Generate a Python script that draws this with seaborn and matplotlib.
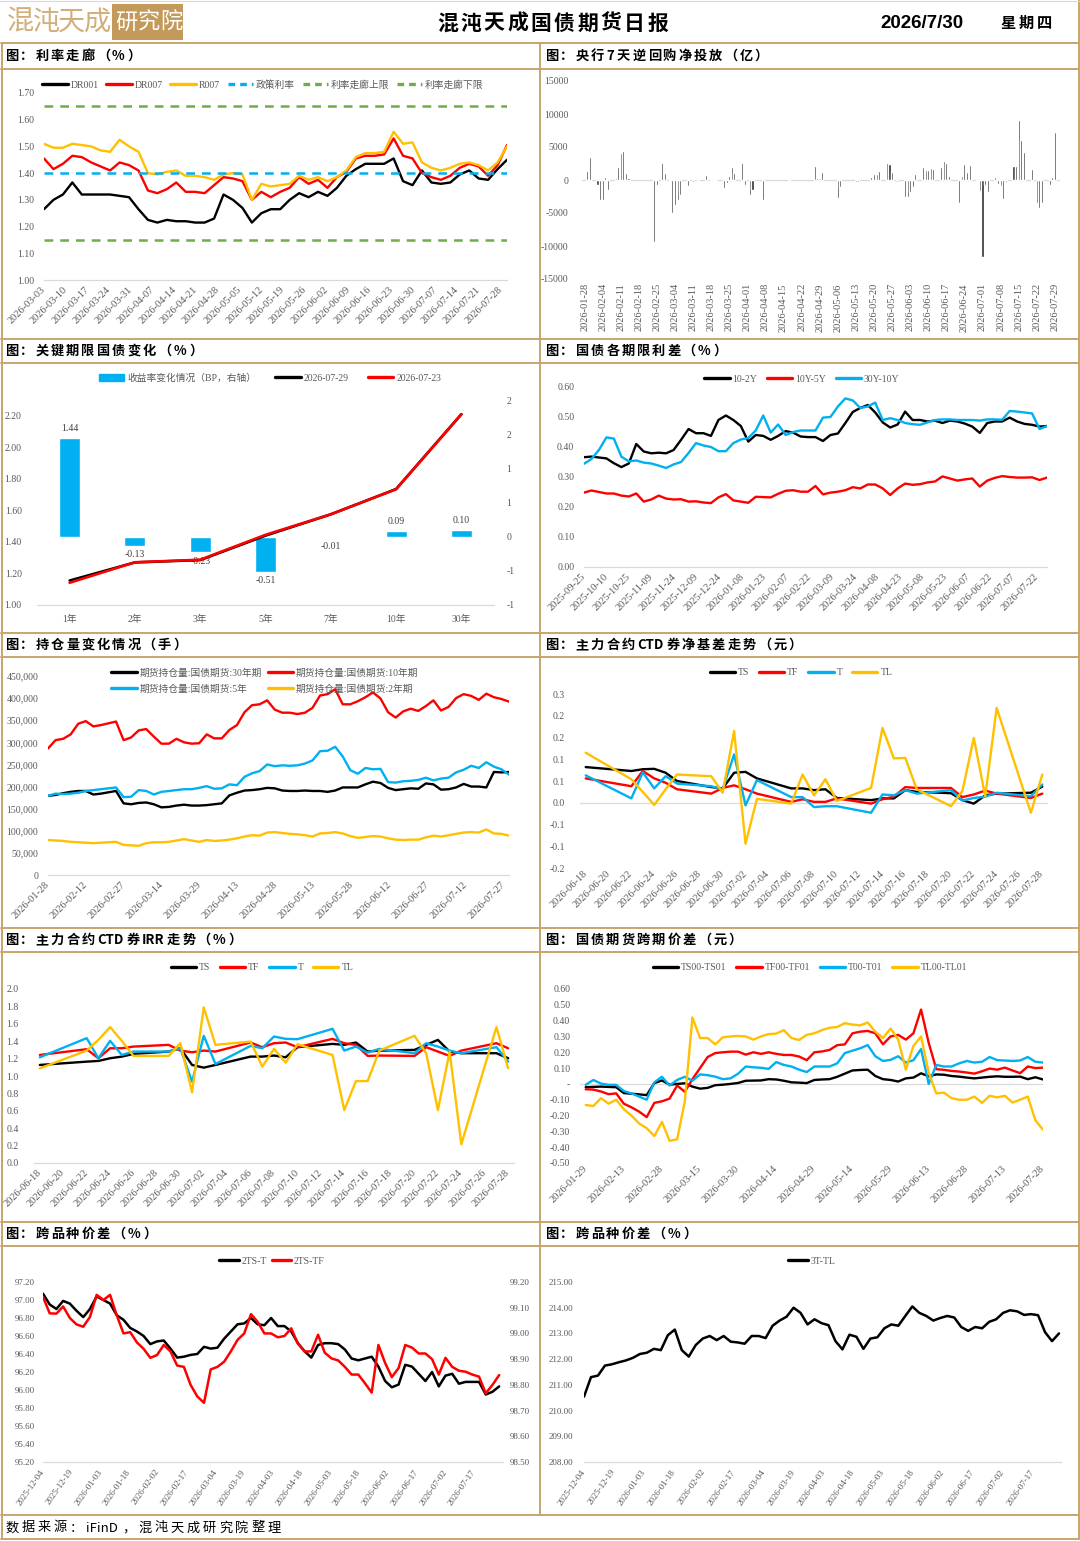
import numpy as np
import pandas as pd
import matplotlib
matplotlib.use("Agg")
import matplotlib.pyplot as plt
import matplotlib.dates as mdates
import matplotlib.ticker as mticker
from matplotlib.lines import Line2D
from matplotlib.patches import Patch, Rectangle
import seaborn as sns

# ---------------- data ----------------
# 1. 利率走廊 (%)
rate_start, rate_end = "2026-03-03", "2026-07-30"
dr001 = [1.265, 1.30, 1.32, 1.365, 1.32, 1.32, 1.32, 1.32, 1.315, 1.31,
         1.265, 1.225, 1.215, 1.225, 1.22, 1.22, 1.215, 1.215, 1.23, 1.32,
         1.30, 1.27, 1.215, 1.25, 1.265, 1.265, 1.30, 1.325, 1.31, 1.33,
         1.315, 1.345, 1.39, 1.415, 1.435, 1.435, 1.435, 1.455, 1.37, 1.355,
         1.41, 1.365, 1.36, 1.365, 1.395, 1.41, 1.38, 1.375, 1.415, 1.45]
dr007 = [1.455, 1.415, 1.435, 1.465, 1.46, 1.44, 1.425, 1.41, 1.44, 1.43,
         1.41, 1.335, 1.325, 1.34, 1.365, 1.33, 1.33, 1.325, 1.355, 1.385,
         1.38, 1.37, 1.30, 1.33, 1.31, 1.33, 1.345, 1.385, 1.36, 1.375,
         1.345, 1.385, 1.405, 1.455, 1.465, 1.465, 1.47, 1.53, 1.465, 1.455,
         1.40, 1.385, 1.375, 1.39, 1.42, 1.435, 1.425, 1.39, 1.43, 1.505]
r007 = [1.51, 1.495, 1.495, 1.51, 1.505, 1.50, 1.485, 1.48, 1.525, 1.50,
        1.48, 1.40, 1.395, 1.405, 1.41, 1.39, 1.39, 1.385, 1.375, 1.395,
        1.40, 1.395, 1.30, 1.36, 1.35, 1.355, 1.36, 1.39, 1.375, 1.385,
        1.37, 1.385, 1.41, 1.46, 1.475, 1.475, 1.48, 1.555, 1.51, 1.515,
        1.44, 1.42, 1.41, 1.42, 1.435, 1.44, 1.43, 1.41, 1.44, 1.50]
policy_rate = 1.40
corridor_upper = 1.65
corridor_lower = 1.15

# 2. 央行7天逆回购净投放 (亿)
omo_dates = ["2026-01-29", "2026-01-30", "2026-02-02", "2026-02-03", "2026-02-04", "2026-02-05", "2026-02-06", "2026-02-09", "2026-02-10", "2026-02-11",
             "2026-02-12", "2026-02-13", "2026-02-14", "2026-02-24", "2026-02-25", "2026-02-27", "2026-02-28", "2026-03-02", "2026-03-03", "2026-03-04",
             "2026-03-05", "2026-03-06", "2026-03-09", "2026-03-11", "2026-03-13", "2026-03-16", "2026-03-18", "2026-03-19", "2026-03-20", "2026-03-23",
             "2026-03-24", "2026-03-25", "2026-03-26", "2026-03-27", "2026-03-30", "2026-03-31", "2026-04-02", "2026-04-03", "2026-04-07", "2026-04-17",
             "2026-04-27", "2026-04-28", "2026-04-29", "2026-04-30", "2026-05-06", "2026-05-07", "2026-05-13", "2026-05-14", "2026-05-19", "2026-05-20",
             "2026-05-21", "2026-05-22", "2026-05-25", "2026-05-26", "2026-05-27", "2026-05-29", "2026-06-01", "2026-06-02", "2026-06-03", "2026-06-04",
             "2026-06-05", "2026-06-08", "2026-06-09", "2026-06-10", "2026-06-11", "2026-06-12", "2026-06-15", "2026-06-16", "2026-06-17", "2026-06-18",
             "2026-06-22", "2026-06-23", "2026-06-24", "2026-06-25", "2026-06-26", "2026-06-29", "2026-06-30", "2026-07-01", "2026-07-02", "2026-07-03",
             "2026-07-06", "2026-07-07", "2026-07-08", "2026-07-09", "2026-07-10", "2026-07-13", "2026-07-14", "2026-07-15", "2026-07-16", "2026-07-17",
             "2026-07-20", "2026-07-22", "2026-07-23", "2026-07-24", "2026-07-27", "2026-07-28", "2026-07-29"]
omo_values = [1420, 3550, -760, -3040, -3040, 500, -1520, 350, 2030, 4060,
              4460, 1120, 300, -9330, -760, 2640, 1120, 150, -5020, -3750,
              -3040, -2280, -910, -250, -200, 810, -200, -150, -150, -1270,
              -450, 560, 2030, 1120, 2540, -760, -2230, -1520, -3040, -200,
              2180, 250, 250, 1170, -2790, -1010, -350, -350, 500, 910,
              910, 1420, 2540, 2430, 1170, -350, -2540, -2540, -1770, -1010,
              910, 2030, 1520, 1520, 1830, 1670, 2030, 2940, 2540, 560,
              -3500, 660, 2430, 1170, 2330, -200, -1620, -11660, -760, -1770,
              410, -610, -860, -2890, -350, 2180, 2180, 9130, 6080, 4310,
              1670, -3550, -4260, -3550, -760, 410, 7250]

# 3. 关键期限国债变化
tenors = ["1年", "2年", "3年", "5年", "7年", "10年", "30年"]
yield_0729 = [1.155, 1.270, 1.285, 1.440, 1.575, 1.735, 2.210]
yield_0723 = [1.141, 1.271, 1.287, 1.445, 1.575, 1.734, 2.209]
bp_change = [1.44, -0.13, -0.23, -0.51, -0.01, 0.09, 0.10]
bp_ticks = [-1.0, -0.5, 0.0, 0.5, 1.0, 1.5, 2.0]
bp_tick_labels = ["-1", "-1", "0", "1", "1", "2", "2"]

# 4. 国债各期限利差 (%)
spread_start, spread_end = "2025-09-25", "2026-07-29"
spread_10_2 = [0.366, 0.368, 0.365, 0.362, 0.346, 0.333, 0.345, 0.41, 0.385, 0.379,
               0.381, 0.379, 0.39, 0.424, 0.46, 0.446, 0.446, 0.437, 0.49, 0.505,
               0.49, 0.47, 0.418, 0.44, 0.437, 0.424, 0.437, 0.453, 0.448, 0.435,
               0.433, 0.433, 0.42, 0.44, 0.445, 0.48, 0.517, 0.53, 0.54, 0.515,
               0.482, 0.465, 0.475, 0.518, 0.49, 0.49, 0.485, 0.488, 0.48, 0.488,
               0.485, 0.478, 0.468, 0.447, 0.48, 0.485, 0.485, 0.498, 0.485, 0.477,
               0.474, 0.468, 0.47]
spread_10_5 = [0.248, 0.255, 0.25, 0.245, 0.245, 0.238, 0.235, 0.245, 0.218, 0.225,
               0.238, 0.228, 0.225, 0.226, 0.218, 0.219, 0.215, 0.213, 0.232, 0.243,
               0.222, 0.218, 0.214, 0.234, 0.233, 0.232, 0.244, 0.254, 0.256, 0.251,
               0.251, 0.27, 0.242, 0.248, 0.251, 0.256, 0.266, 0.262, 0.275, 0.275,
               0.262, 0.24, 0.262, 0.278, 0.274, 0.276, 0.282, 0.285, 0.302, 0.295,
               0.288, 0.292, 0.295, 0.268, 0.288, 0.297, 0.303, 0.30, 0.298, 0.298,
               0.299, 0.29, 0.298]
spread_30_10 = [0.344, 0.36, 0.39, 0.432, 0.428, 0.368, 0.352, 0.355, 0.348, 0.345,
                0.338, 0.33, 0.342, 0.35, 0.38, 0.413, 0.405, 0.40, 0.386, 0.386,
                0.413, 0.425, 0.43, 0.455, 0.505, 0.448, 0.475, 0.44, 0.45, 0.455,
                0.455, 0.455, 0.498, 0.50, 0.535, 0.562, 0.555, 0.53, 0.535, 0.548,
                0.49, 0.496, 0.49, 0.48, 0.476, 0.474, 0.482, 0.49, 0.492, 0.492,
                0.49, 0.49, 0.49, 0.488, 0.492, 0.492, 0.491, 0.52, 0.518, 0.515,
                0.512, 0.46, 0.47]

# 5. 持仓量变化情况 (手)
oi_start, oi_end = "2026-01-28", "2026-07-29"
oi_30y = [179000, 181000, 185000, 188000, 190000, 190000, 182000, 184000, 187000, 190000,
          162000, 160000, 163000, 164000, 160000, 153000, 154000, 157000, 159000, 157000,
          157000, 158000, 160000, 162000, 180000, 186000, 191000, 192000, 194000, 197000,
          196000, 191000, 190000, 190000, 191000, 190000, 190000, 188000, 191000, 198000,
          198000, 198000, 205000, 211000, 208000, 197000, 192000, 194000, 196000, 195000,
          207000, 205000, 193000, 194000, 198000, 206000, 200000, 200000, 198000, 233000,
          232000, 233000]
oi_10y = [286000, 305000, 308000, 318000, 342000, 348000, 336000, 339000, 343000, 347000,
          305000, 311000, 327000, 330000, 313000, 297000, 297000, 308000, 300000, 297000,
          298000, 318000, 309000, 309000, 328000, 339000, 368000, 384000, 386000, 395000,
          374000, 367000, 367000, 364000, 367000, 378000, 406000, 409000, 420000, 386000,
          386000, 393000, 402000, 413000, 399000, 368000, 356000, 370000, 376000, 371000,
          382000, 395000, 372000, 380000, 400000, 409000, 405000, 396000, 410000, 402000,
          398000, 392000]
oi_5y = [179000, 184000, 183000, 184000, 186000, 190000, 192000, 194000, 196000, 198000,
         176000, 177000, 192000, 190000, 182000, 188000, 190000, 192000, 194000, 194000,
         197000, 201000, 195000, 196000, 205000, 203000, 222000, 230000, 235000, 250000,
         246000, 248000, 247000, 248000, 252000, 259000, 280000, 281000, 290000, 268000,
         237000, 229000, 242000, 239000, 240000, 210000, 209000, 212000, 213000, 215000,
         220000, 214000, 218000, 220000, 232000, 238000, 247000, 242000, 255000, 245000,
         239000, 227000]
oi_2y = [79000, 78000, 77000, 75000, 74000, 73000, 72000, 73000, 74000, 75000,
         68000, 67000, 66000, 72000, 74000, 74000, 75000, 78000, 81000, 78000,
         75000, 79000, 77000, 78000, 80000, 83000, 87000, 90000, 89000, 96000,
         97000, 95000, 93000, 92000, 90000, 87000, 94000, 95000, 97000, 94000,
         88000, 84000, 86000, 88000, 87000, 83000, 80000, 79000, 80000, 80000,
         85000, 89000, 87000, 90000, 93000, 96000, 97000, 96000, 103000, 94000,
         93000, 89000]

# 6/7. 主力合约CTD券净基差 (元) / IRR (%)
ctd_dates = ["2026-06-18", "2026-06-22", "2026-06-23", "2026-06-24", "2026-06-25", "2026-06-26", "2026-06-29",
             "2026-06-30", "2026-07-01", "2026-07-02", "2026-07-03", "2026-07-06", "2026-07-07", "2026-07-08",
             "2026-07-09", "2026-07-10", "2026-07-13", "2026-07-14", "2026-07-15", "2026-07-16", "2026-07-17",
             "2026-07-20", "2026-07-21", "2026-07-22", "2026-07-23", "2026-07-24", "2026-07-27", "2026-07-28"]
basis_ts = [0.082, 0.073, 0.077, 0.078, 0.069, 0.050, 0.036, 0.033, 0.069, 0.071, 0.056, 0.033, 0.033, 0.029,
            0.031, 0.011, 0.006, 0.010, 0.010, 0.029, 0.025, 0.022, 0.006, -0.002, 0.017, 0.021, 0.023, 0.037]
basis_tf = [0.056, 0.038, 0.073, 0.056, 0.046, 0.031, 0.021, 0.034, 0.040, 0.031, 0.021, 0.002, 0.008, 0.002,
            0.002, 0.010, -0.002, 0.008, 0.014, 0.036, 0.034, 0.034, 0.013, 0.019, 0.028, 0.021, 0.011, 0.021]
basis_t = [0.063, 0.010, 0.070, 0.033, 0.061, 0.044, 0.038, 0.031, 0.111, -0.006, 0.052, 0.013, 0.013, -0.010,
           -0.008, -0.008, -0.023, 0.019, 0.017, 0.029, 0.021, 0.029, 0.005, 0.011, 0.014, 0.023, 0.015, 0.042]
basis_tl = [0.115, 0.054, 0.025, -0.005, 0.031, 0.065, 0.061, 0.023, 0.165, -0.094, 0.009, -0.002, 0.065, 0.017,
            0.054, 0.004, 0.034, 0.172, 0.102, 0.103, 0.031, -0.008, 0.027, 0.149, 0.015, 0.218, -0.023, 0.065]
basis_ticks = [-0.15, -0.10, -0.05, 0.0, 0.05, 0.10, 0.15, 0.20, 0.25]
basis_tick_labels = ["-0.2", "-0.1", "-0.1", "0.0", "0.1", "0.1", "0.2", "0.2", "0.3"]

irr_ts = [1.127, 1.165, 1.173, 1.204, 1.223, 1.254, 1.281, 1.319, 1.127, 1.096, 1.127, 1.223, 1.223, 1.235,
          1.215, 1.331, 1.369, 1.358, 1.385, 1.281, 1.292, 1.300, 1.358, 1.415, 1.281, 1.262, 1.262, 1.204]
irr_tf = [1.242, 1.308, 1.204, 1.319, 1.319, 1.338, 1.358, 1.292, 1.273, 1.292, 1.281, 1.385, 1.331, 1.377,
          1.385, 1.331, 1.427, 1.377, 1.358, 1.231, 1.235, 1.231, 1.331, 1.281, 1.231, 1.292, 1.377, 1.319]
irr_t = [1.215, 1.435, 1.204, 1.404, 1.242, 1.281, 1.281, 1.319, 0.935, 1.462, 1.138, 1.346, 1.319, 1.454,
         1.427, 1.423, 1.542, 1.292, 1.338, 1.269, 1.312, 1.262, 1.377, 1.338, 1.292, 1.262, 1.331, 1.165]
irr_tl = [1.088, 1.292, 1.415, 1.562, 1.404, 1.231, 1.231, 1.377, 0.812, 1.788, 1.358, 1.396, 1.108, 1.312,
          1.154, 1.365, 1.242, 0.608, 0.942, 0.942, 1.292, 1.462, 1.262, 0.608, 1.281, 0.215, 1.562, 1.088]

# 8. 国债期货跨期价差 (元)
cal_start, cal_end = "2026-01-29", "2026-07-28"
cal_ts = [-0.021, -0.019, -0.017, -0.019, -0.021, -0.058, -0.062, -0.066, -0.071, 0.005,
          0.022, -0.005, 0.0, 0.004, -0.017, -0.03, -0.025, -0.008, -0.005, 0.0,
          0.006, 0.02, 0.021, 0.022, 0.03, 0.028, 0.02, 0.01, 0.008, 0.005,
          0.025, 0.028, 0.03, 0.045, 0.065, 0.085, 0.088, 0.09, 0.05, 0.03,
          0.025, 0.015, 0.035, 0.04, 0.067, 0.048, 0.06, 0.058, 0.05, 0.046,
          0.04, 0.035, 0.04, 0.045, 0.048, 0.045, 0.045, 0.046, 0.03, 0.042,
          0.028]
cal_tf = [-0.034, -0.036, -0.048, -0.065, -0.06, -0.125, -0.148, -0.175, -0.21, -0.12,
          -0.11, -0.093, -0.01, -0.05, 0.03, 0.10, 0.17, 0.195, 0.20, 0.204,
          0.204, 0.185, 0.20, 0.19, 0.20, 0.19, 0.183, 0.183, 0.173, 0.15,
          0.20, 0.205, 0.215, 0.245, 0.25, 0.32, 0.33, 0.335, 0.32, 0.25,
          0.30, 0.31, 0.28, 0.32, 0.47, 0.26, 0.093, 0.089, 0.082, 0.078,
          0.072, 0.065, 0.08, 0.097, 0.09, 0.103, 0.085, 0.068, 0.11, 0.10,
          0.103]
cal_t = [-0.006, 0.025, 0.002, -0.006, -0.006, -0.045, -0.06, -0.08, -0.1, 0.01,
         0.045, -0.01, 0.025, 0.045, 0.02, 0.06, 0.055, 0.046, 0.03, 0.035,
         0.065, 0.11, 0.105, 0.102, 0.095, 0.138, 0.12, 0.11, 0.09, 0.075,
         0.11, 0.11, 0.11, 0.13, 0.195, 0.21, 0.225, 0.245, 0.175, 0.145,
         0.152, 0.175, 0.135, 0.15, 0.22, 0.0, 0.12, 0.11, 0.11, 0.13,
         0.145, 0.135, 0.14, 0.17, 0.15, 0.148, 0.145, 0.148, 0.17, 0.14,
         0.135]
cal_tl = [-0.133, -0.14, -0.09, -0.125, -0.1, -0.16, -0.2, -0.25, -0.28, -0.33,
          -0.24, -0.36, -0.35, -0.11, 0.42, 0.29, 0.29, 0.25, 0.295, 0.30,
          0.303, 0.30, 0.28, 0.30, 0.315, 0.318, 0.34, 0.29, 0.278, 0.31,
          0.32, 0.34, 0.355, 0.36, 0.384, 0.375, 0.37, 0.388, 0.33, 0.29,
          0.35, 0.28, 0.09, 0.24, 0.30, 0.07, -0.06, -0.055, -0.09, -0.1,
          -0.1, -0.08, -0.12, -0.075, -0.085, -0.075, -0.118, -0.1, -0.08, -0.23,
          -0.29]

# 9/10. 跨品种价差
cross_start, cross_end = "2025-12-04", "2026-07-30"
spread_2ts_t = [97.07, 96.95, 96.90, 96.99, 96.96, 96.88, 96.81, 96.90, 97.04, 97.00,
                96.96, 96.83, 96.78, 96.69, 96.65, 96.60, 96.51, 96.54, 96.55, 96.46,
                96.36, 96.37, 96.39, 96.40, 96.48, 96.46, 96.47, 96.57, 96.65, 96.73,
                96.74, 96.80, 96.73, 96.72, 96.80, 96.71, 96.71, 96.65, 96.52, 96.43,
                96.36, 96.50, 96.52, 96.52, 96.51, 96.45, 96.35, 96.33, 96.35, 96.37,
                96.26, 96.10, 96.03, 96.06, 96.28, 96.26, 96.18, 96.10, 96.20, 96.04,
                96.16, 96.18, 96.07, 96.09, 96.09, 96.09, 95.95, 95.98, 96.04]
spread_2ts_tf = [99.142, 99.078, 99.077, 99.105, 99.06, 99.035, 99.026, 99.064, 99.15, 99.13,
                 99.15, 99.07, 99.00, 99.005, 98.965, 98.94, 98.905, 98.916, 98.955, 98.93,
                 98.875, 98.87, 98.80, 98.755, 98.73, 98.86, 98.87, 98.89, 98.93, 98.975,
                 99.00, 99.075, 99.045, 99.00, 99.00, 98.985, 98.99, 99.02, 98.96, 98.93,
                 98.93, 98.995, 98.925, 98.903, 98.895, 98.87, 98.84, 98.84, 98.806, 98.77,
                 98.955, 98.885, 98.83, 98.865, 98.955, 98.945, 98.922, 98.922, 98.90, 98.84,
                 98.905, 98.87, 98.855, 98.851, 98.84, 98.832, 98.767, 98.80, 98.838]
spread_3t_tl = [210.54, 211.30, 211.36, 211.75, 211.80, 211.88, 211.95, 212.05, 212.20, 212.25,
                212.40, 212.35, 212.93, 213.15, 212.35, 212.10, 212.55, 212.80, 212.90, 212.74,
                212.90, 212.68, 212.65, 212.60, 212.90, 212.90, 212.82, 213.30, 213.50, 213.65,
                214.00, 213.80, 213.35, 213.55, 213.40, 213.32, 212.70, 212.38, 212.95, 212.87,
                212.40, 212.80, 212.85, 213.20, 213.35, 213.30, 213.68, 214.05, 213.80, 213.68,
                213.50, 213.60, 213.68, 213.62, 213.25, 213.10, 213.25, 213.20, 213.45, 213.55,
                213.80, 213.90, 213.86, 213.72, 213.75, 213.71, 213.05, 212.70, 213.00]

# ---------------- style ----------------
BLACK, RED, BLUE, YELLOW, GREEN = "#000000", "#FF0000", "#00B0F0", "#FFC000", "#70AD47"
TXT, AXC, GOLD = "#595959", "#D9D9D9", "#C8A56E"
LW = 1.7
CJK = ["Noto Sans CJK SC", "DejaVu Sans"]

sns.set_theme(style="white")
plt.rcParams["font.family"] = ["Liberation Serif", "Noto Sans CJK SC"]
plt.rcParams["axes.unicode_minus"] = False

W, H = 1080, 1541
fig = plt.figure(figsize=(W / 100, H / 100), dpi=100)
bg = fig.add_axes([0, 0, 1, 1])
bg.axis("off")
renderer = fig.canvas.get_renderer()


def add_ax(l, t, r, b):
    ax = fig.add_axes([l / W, 1 - b / H, (r - l) / W, (b - t) / H])
    ax.set_facecolor("none")
    return ax


def setup(ax, xtick_len=3):
    for s in ("top", "right", "left"):
        ax.spines[s].set_visible(False)
    ax.spines["bottom"].set_color(AXC)
    ax.spines["bottom"].set_linewidth(0.9)
    ax.tick_params(axis="y", length=0, labelsize=7, labelcolor=TXT, pad=7)
    ax.tick_params(axis="x", length=xtick_len, width=0.8, color=AXC, labelsize=7.5,
                   labelcolor=TXT, pad=3)
    ax.set_xlabel("")
    ax.set_ylabel("")
    ax.grid(False)


def date_axis(ax, ticks, lo, hi, rot=45, size=7.5):
    ax.set_xlim(pd.Timestamp(lo), pd.Timestamp(hi))
    ax.set_xticks(ticks)
    ax.xaxis.set_major_formatter(mdates.DateFormatter("%Y-%m-%d"))
    plt.setp(ax.get_xticklabels(), rotation=rot, ha="right", va="center",
             rotation_mode="anchor", fontsize=size, color=TXT)


def draw(ax, x, y, color, lw=LW):
    sns.lineplot(x=x, y=np.asarray(y), ax=ax, color=color, lw=lw, legend=False,
                 errorbar=None, sort=False)


def hline(c, ls="-"):
    return Line2D([0], [0], color=c, lw=2.4, ls=ls)


def add_legend(handles, labels, cx, cy, ncol=None, **kw):
    opts = dict(loc="center", bbox_to_anchor=(cx / W, 1 - cy / H), ncol=ncol or len(handles),
                frameon=False, prop={"size": 7}, labelcolor=TXT, handlelength=2.6,
                handletextpad=0.3, columnspacing=1.0, borderaxespad=0, borderpad=0)
    opts.update(kw)
    fig.legend(handles, labels, **opts)


def spaced(x, y, s, step, size, weight="bold", color="black", gap=3):
    # CJK characters one by one with wide tracking, ASCII runs kept together
    runs, cur = [], ""
    for ch in s:
        if ord(ch) < 256:
            cur += ch
        else:
            if cur:
                runs.append(cur)
                cur = ""
            runs.append(ch)
    if cur:
        runs.append(cur)
    for r in runs:
        t = bg.text(x, y, r, fontsize=size, fontweight=weight, color=color, family=CJK,
                    ha="left", va="center")
        if ord(r[0]) > 255:
            x += step
        else:
            x += t.get_window_extent(renderer=renderer).width + gap


# ---------------- frame & header ----------------
bg.set_xlim(0, W)
bg.set_ylim(H, 0)
for yy in [43, 69, 339, 363, 633, 657, 928, 952, 1222, 1246, 1515, 1539]:
    bg.plot([1, 1079], [yy, yy], color=GOLD, lw=1.4)
bg.plot([540, 540], [43, 1515], color=GOLD, lw=1.4)
bg.plot([1.5, 1.5], [43, 1539], color=GOLD, lw=1.4)
bg.plot([1078.5, 1078.5], [0, 1539], color=GOLD, lw=1.4)
bg.plot([0, 1080], [0.5, 0.5], color=AXC, lw=0.8)
bg.set_xlim(0, W)
bg.set_ylim(H, 0)

spaced(7, 22, "混沌天成", 25.5, 19.5, weight="light", color="#D2AE78")
bg.add_patch(Rectangle((112, 4), 71, 36, facecolor="#C49A5A", edgecolor="none"))
spaced(115, 22, "研究院", 22.5, 16, weight="normal", color="white")
spaced(437, 23, "混沌天成国债期货日报", 23.4, 15, weight="heavy")
bg.text(880, 23, "2026/7/30", fontsize=13.5, fontweight="bold", family="Liberation Sans",
        ha="left", va="center", color="black")
spaced(1000, 23, "星期四", 18.5, 11)

titles = [(5, 56, "图：利率走廊（%）"), (545, 56, "图：央行7天逆回购净投放（亿）"),
          (5, 351, "图：关键期限国债变化（%）"), (545, 351, "图：国债各期限利差（%）"),
          (5, 645, "图：持仓量变化情况（手）"), (545, 645, "图：主力合约CTD券净基差走势（元）"),
          (5, 940, "图：主力合约CTD券IRR走势（%）"), (545, 940, "图：国债期货跨期价差（元）"),
          (5, 1234, "图：跨品种价差（%）"), (545, 1234, "图：跨品种价差（%）")]
for tx, ty, ts in titles:
    spaced(tx, ty, ts, 15.3, 9.5, gap=3)
spaced(5, 1528, "数据来源：iFinD，混沌天成研究院整理", 16.2, 9.5, weight="normal", gap=4)

# ---------------- 1. 利率走廊 ----------------
ax1 = add_ax(44, 93, 507, 280)
d1 = pd.date_range(rate_start, rate_end, periods=len(dr001))
for ser, c in [(dr001, BLACK), (dr007, RED), (r007, YELLOW)]:
    draw(ax1, d1, ser, c)
ax1.axhline(policy_rate, color=BLUE, lw=1.8, ls=(0, (3.5, 2.8)))
ax1.axhline(corridor_upper, color=GREEN, lw=1.8, ls=(0, (3.5, 2.8)))
ax1.axhline(corridor_lower, color=GREEN, lw=1.8, ls=(0, (3.5, 2.8)))
setup(ax1)
ax1.set_ylim(1.0, 1.7)
ax1.set_yticks(np.linspace(1.0, 1.7, 8))
ax1.yaxis.set_major_formatter(mticker.FormatStrFormatter("%.2f"))
date_axis(ax1, pd.date_range("2026-03-03", "2026-07-28", freq="7D"), rate_start, rate_end)
add_legend([hline(BLACK), hline(RED), hline(YELLOW), hline(BLUE, (0, (2, 1.5))),
            hline(GREEN, (0, (2, 1.5))), hline(GREEN, (0, (2, 1.5)))],
           ["DR001", "DR007", "R007", "政策利率", "利率走廊上限", "利率走廊下限"], 263, 85,
           columnspacing=0.8)

# ---------------- 2. 央行逆回购 ----------------
ax2 = add_ax(582, 81, 1060, 279)
ax2.bar(pd.to_datetime(omo_dates), omo_values, width=0.8, color="#2E2E2E")
ax2.axhline(0, color=AXC, lw=0.9, zorder=0)
setup(ax2, xtick_len=0)
ax2.spines["bottom"].set_visible(False)
ax2.set_ylim(-15000, 15000)
ax2.set_yticks(np.arange(-15000, 15001, 5000))
ax2.tick_params(axis="y", pad=10)
date_axis(ax2, pd.date_range("2026-01-28", "2026-07-29", freq="7D"), "2026-01-27", "2026-07-31",
          rot=90, size=7.5)

# ---------------- 3. 关键期限国债 ----------------
ax3 = add_ax(37, 400, 494, 605)
ax3r = ax3.twinx()
ax3r.set_facecolor("none")
pos = np.arange(len(tenors))
ax3r.bar(pos, bp_change, width=0.32, color=BLUE)
for i, v in enumerate(bp_change):
    ax3r.text(i, v + (0.07 if v >= 0 else -0.07), f"{v:.2f}", ha="center",
              va="bottom" if v >= 0 else "top", fontsize=7, color="#404040")
draw(ax3, pos, yield_0729, BLACK, lw=1.9)
draw(ax3, pos, yield_0723, RED, lw=1.9)
ax3.set_zorder(ax3r.get_zorder() + 1)
ax3.patch.set_visible(False)
setup(ax3, xtick_len=0)
ax3.set_xlim(-0.5, len(tenors) - 0.5)
ax3.set_xticks(pos, tenors)
ax3.tick_params(axis="x", labelsize=7, pad=7)
ax3.set_ylim(1.0, 2.3)
ax3.set_yticks(np.linspace(1.0, 2.2, 7))
ax3.yaxis.set_major_formatter(mticker.FormatStrFormatter("%.2f"))
ax3.tick_params(axis="y", pad=11)
for s in ax3r.spines.values():
    s.set_visible(False)
ax3r.set_ylim(-1, 2)
ax3r.set_yticks(bp_ticks, bp_tick_labels)
ax3r.tick_params(axis="y", length=0, labelsize=7, labelcolor=TXT, pad=9)
ax3r.grid(False)
ax3r.set_ylabel("")
add_legend([Patch(color=BLUE), hline(BLACK), hline(RED)],
           ["收益率变化情况（BP，右轴）", "2026-07-29", "2026-07-23"], 270, 378,
           columnspacing=2.0)

# ---------------- 4. 国债各期限利差 ----------------
ax4 = add_ax(584, 387, 1047, 567)
d4 = pd.date_range(spread_start, spread_end, periods=len(spread_10_2))
for ser, c in [(spread_10_2, BLACK), (spread_10_5, RED), (spread_30_10, BLUE)]:
    draw(ax4, d4, ser, c)
setup(ax4)
ax4.set_ylim(0, 0.6)
ax4.set_yticks(np.linspace(0, 0.6, 7))
ax4.yaxis.set_major_formatter(mticker.FormatStrFormatter("%.2f"))
date_axis(ax4, pd.date_range("2025-09-25", "2026-07-22", freq="15D"), spread_start, spread_end)
add_legend([hline(BLACK), hline(RED), hline(BLUE)], ["10-2Y", "10Y-5Y", "30Y-10Y"], 802, 379)

# ---------------- 5. 持仓量 ----------------
ax5 = add_ax(48, 676, 509, 875)
d5 = pd.date_range(oi_start, oi_end, periods=len(oi_30y))
for ser, c in [(oi_30y, BLACK), (oi_10y, RED), (oi_5y, BLUE), (oi_2y, YELLOW)]:
    draw(ax5, d5, ser, c)
setup(ax5)
ax5.set_ylim(0, 450000)
ax5.set_yticks(np.arange(0, 450001, 50000))
ax5.yaxis.set_major_formatter(mticker.StrMethodFormatter("{x:,.0f}"))
date_axis(ax5, pd.date_range("2026-01-28", "2026-07-27", freq="15D"), oi_start, oi_end)
add_legend([hline(BLACK), hline(BLUE), hline(RED), hline(YELLOW)],
           ["期货持仓量:国债期货:30年期", "期货持仓量:国债期货:5年",
            "期货持仓量:国债期货:10年期", "期货持仓量:国债期货:2年期"], 265, 681, ncol=2,
           labelspacing=0.7, columnspacing=0.6)

# ---------------- 6. CTD净基差 ----------------
dctd = pd.to_datetime(ctd_dates)
ctd_ticks = pd.date_range("2026-06-18", "2026-07-28", freq="2D")
ax6 = add_ax(580, 694, 1048, 868)
for ser, c in [(basis_ts, BLACK), (basis_tf, RED), (basis_t, BLUE), (basis_tl, YELLOW)]:
    draw(ax6, dctd, ser, c)
ax6.axhline(0, color=AXC, lw=0.9, zorder=0)
setup(ax6, xtick_len=0)
ax6.spines["bottom"].set_visible(False)
ax6.set_ylim(-0.15, 0.25)
ax6.set_yticks(basis_ticks, basis_tick_labels)
ax6.tick_params(axis="y", pad=11)
date_axis(ax6, ctd_ticks, "2026-06-17 12:00", "2026-07-28 12:00")
add_legend([hline(BLACK), hline(RED), hline(BLUE), hline(YELLOW)], ["TS", "TF", "T", "TL"], 801, 673)

# ---------------- 7. CTD IRR ----------------
ax7 = add_ax(34, 989, 514, 1163)
for ser, c in [(irr_ts, BLACK), (irr_tf, RED), (irr_t, BLUE), (irr_tl, YELLOW)]:
    draw(ax7, dctd, ser, c)
setup(ax7)
ax7.set_ylim(0, 2.0)
ax7.set_yticks(np.linspace(0, 2.0, 11))
ax7.yaxis.set_major_formatter(mticker.FormatStrFormatter("%.1f"))
ax7.tick_params(axis="y", pad=11)
date_axis(ax7, ctd_ticks, "2026-06-17 12:00", "2026-07-28 12:00")
add_legend([hline(BLACK), hline(RED), hline(BLUE), hline(YELLOW)], ["TS", "TF", "T", "TL"], 262, 968)

# ---------------- 8. 跨期价差 ----------------
ax8 = add_ax(580, 989, 1043, 1163)
d8 = pd.date_range(cal_start, cal_end, periods=len(cal_ts))
for ser, c in [(cal_ts, BLACK), (cal_tf, RED), (cal_t, BLUE), (cal_tl, YELLOW)]:
    draw(ax8, d8, ser, c)
ax8.axhline(0, color=AXC, lw=0.9, zorder=0)
setup(ax8, xtick_len=0)
ax8.spines["bottom"].set_visible(False)
ax8.set_ylim(-0.5, 0.6)
ax8.set_yticks(np.linspace(-0.5, 0.6, 12))
ax8.yaxis.set_major_formatter(mticker.FuncFormatter(lambda v, _: "-" if abs(v) < 1e-9 else f"{v:.2f}"))
date_axis(ax8, pd.date_range("2026-01-29", "2026-07-28", freq="15D"), "2026-01-26 18:00", "2026-07-28")
add_legend([hline(BLACK), hline(RED), hline(BLUE), hline(YELLOW)],
           ["TS00-TS01", "TF00-TF01", "T00-T01", "TL00-TL01"], 810, 968)

# ---------------- 9. 跨品种价差 2TS-T / 2TS-TF ----------------
dcross = pd.date_range(cross_start, cross_end, periods=len(spread_2ts_t))
cross_ticks = pd.date_range("2025-12-04", "2026-07-17", freq="15D")
ax9 = add_ax(43, 1282, 503, 1462)
ax9r = ax9.twinx()
ax9r.set_facecolor("none")
draw(ax9, dcross, spread_2ts_t, BLACK, lw=1.8)
draw(ax9r, dcross, spread_2ts_tf, RED, lw=1.8)
setup(ax9)
ax9.set_ylim(95.2, 97.2)
ax9.set_yticks(np.linspace(95.2, 97.2, 11))
ax9.yaxis.set_major_formatter(mticker.FormatStrFormatter("%.2f"))
ax9.tick_params(axis="y", labelsize=6.5, pad=6)
for s in ax9r.spines.values():
    s.set_visible(False)
ax9r.set_ylim(98.5, 99.2)
ax9r.set_yticks(np.linspace(98.5, 99.2, 8))
ax9r.yaxis.set_major_formatter(mticker.FormatStrFormatter("%.2f"))
ax9r.tick_params(axis="y", length=0, labelsize=6.5, labelcolor=TXT, pad=5)
ax9r.grid(False)
ax9r.set_ylabel("")
date_axis(ax9, cross_ticks, "2025-12-04", "2026-08-01", rot=55, size=6.5)
add_legend([hline(BLACK), hline(RED)], ["2TS-T", "2TS-TF"], 272, 1261, handlelength=2.0,
           columnspacing=0.5)

# ---------------- 10. 跨品种价差 3T-TL ----------------
ax10 = add_ax(584, 1282, 1061, 1462)
draw(ax10, dcross, spread_3t_tl, BLACK, lw=1.8)
setup(ax10)
ax10.set_ylim(208, 215)
ax10.set_yticks(np.arange(208, 215.5, 1))
ax10.yaxis.set_major_formatter(mticker.FormatStrFormatter("%.2f"))
ax10.tick_params(axis="y", labelsize=6.5, pad=8)
date_axis(ax10, cross_ticks, "2025-12-04", "2026-07-31", rot=55, size=6.5)
add_legend([hline(BLACK)], ["3T-TL"], 812, 1261, handlelength=2.0)

bg.set_xlim(0, W)
bg.set_ylim(H, 0)

fig.savefig("out.png", dpi=100)
